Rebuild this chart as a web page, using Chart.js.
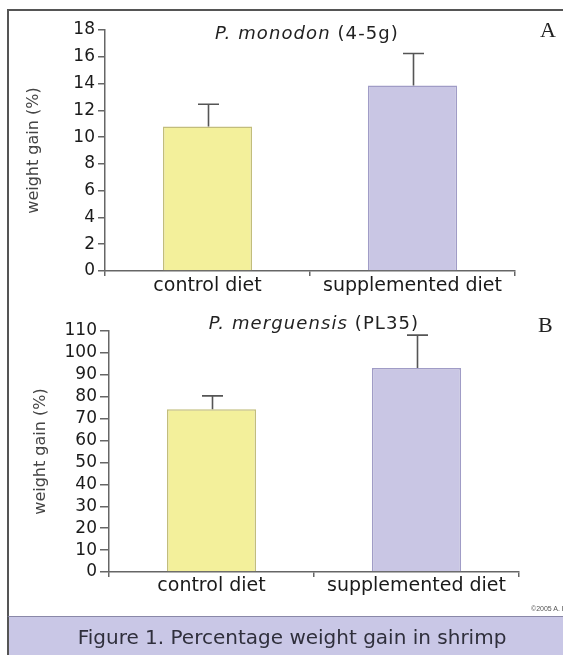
<!DOCTYPE html>
<html><head><meta charset="utf-8">
<script src="https://cdn.jsdelivr.net/npm/chart.js@4.4.1/dist/chart.umd.min.js"></script>
<style>
html,body{margin:0;padding:0;background:#fff;}
body{width:563px;height:655px;position:relative;overflow:hidden;font-family:"DejaVu Sans",sans-serif;}
canvas{position:absolute;left:0;}
#c1{top:0;}
#c2{top:305px;}
.frame{position:absolute;left:7px;top:9px;width:600px;height:607px;border-top:2px solid #555;border-left:2px solid #555;}
.ttl{position:absolute;transform:translateX(-50%);white-space:nowrap;font-size:18px;letter-spacing:1.1px;color:#222;line-height:20px;}
.lett{position:absolute;font-family:"Liberation Serif",serif;font-size:22px;color:#222;line-height:22px;}
.copy{position:absolute;left:531px;top:605px;font-family:"Liberation Sans",sans-serif;font-size:7px;color:#555;white-space:nowrap;line-height:8px;}
.footer{position:absolute;left:7px;top:616px;width:600px;height:39px;background:#c9c7e6;border-left:2px solid #555;border-top:1px solid #8a88a8;}
.footer span{position:absolute;left:283px;top:9px;transform:translateX(-50%);white-space:nowrap;font-size:20px;line-height:22px;color:#2f2f3c;}
</style>
</head>
<body>
<div class="frame"></div>
<canvas id="c1" width="563" height="305"></canvas>
<canvas id="c2" width="563" height="305"></canvas>
<div class="ttl" style="left:307px;top:23px;"><i>P. monodon</i> (4-5g)</div>
<div class="lett" style="left:540px;top:19px;">A</div>
<div class="ttl" style="left:314px;top:313px;"><i>P. merguensis</i> (PL35)</div>
<div class="lett" style="left:538px;top:314px;">B</div>
<div class="copy">©2005 A. Barnes</div>
<div class="footer"><span>Figure 1. Percentage weight gain in shrimp</span></div>
<script>
const categories = ['control diet', 'supplemented diet'];
const monodonValues = [10.8, 13.85];
const monodonErrors = [1.65, 2.4];
const monodonTicks = [0, 2, 4, 6, 8, 10, 12, 14, 16, 18];
const merguensisValues = [74.3, 93.1];
const merguensisErrors = [6.1, 15.0];
const merguensisTicks = [0, 10, 20, 30, 40, 50, 60, 70, 80, 90, 100, 110];
const yTitle = 'weight gain (%)';
const barFill = ['#f3f09b', '#c9c6e4'];
const barEdge = ['#c2bd7c', '#a09cc6'];

Chart.defaults.font.family = 'DejaVu Sans';

const errorBars = {
  id: 'errorBars',
  afterDatasetsDraw(chart, args, opts) {
    const ctx = chart.ctx, y = chart.scales.y;
    chart.data.datasets.forEach((ds, i) => {
      const meta = chart.getDatasetMeta(i);
      meta.data.forEach((bar, j) => {
        const top = y.getPixelForValue(ds.data[j] + ds.errors[j]);
        const x = Math.round(bar.x) + 0.5;
        ctx.save();
        ctx.strokeStyle = '#555';
        ctx.lineWidth = 1.6;
        ctx.beginPath();
        ctx.moveTo(x, bar.y);
        ctx.lineTo(x, top);
        ctx.moveTo(x - opts.cap / 2, top);
        ctx.lineTo(x + opts.cap / 2, top);
        ctx.stroke();
        ctx.restore();
      });
    });
  }
};

function makeChart(id, values, errors, tickVals, g) {
  return new Chart(document.getElementById(id), {
    type: 'bar',
    data: {
      labels: categories,
      datasets: [{
        data: values,
        errors: errors,
        backgroundColor: barFill,
        borderColor: barEdge,
        borderWidth: 1.5,
        barPercentage: 0.435,
        categoryPercentage: 1
      }]
    },
    plugins: [errorBars],
    options: {
      responsive: false,
      animation: false,
      devicePixelRatio: 1,
      layout: { padding: { top: g.top, right: g.right, left: 0, bottom: 0 } },
      plugins: {
        legend: { display: false },
        tooltip: { enabled: false },
        errorBars: { cap: 21 }
      },
      scales: {
        x: {
          offset: true,
          grid: { offset: true, drawOnChartArea: false, drawTicks: true, tickLength: 5, color: '#666', lineWidth: 1.5 },
          border: { display: true, color: '#666', width: 1.5 },
          ticks: { font: { size: 19 }, color: '#1a1a1a', padding: g.xpad, maxRotation: 0, autoSkip: false },
          afterFit(s) { s.height = g.xh; }
        },
        y: {
          min: tickVals[0],
          max: tickVals[tickVals.length - 1],
          afterBuildTicks(s) { s.ticks = tickVals.map(v => ({ value: v })); },
          grid: { drawOnChartArea: false, drawTicks: true, tickLength: g.tl, color: '#666', lineWidth: 1.5 },
          border: { display: true, color: '#666', width: 1.5 },
          ticks: { font: { size: 17 }, color: '#1a1a1a', padding: 3, autoSkip: false },
          title: { display: true, text: yTitle, font: { size: 16 }, color: '#444', padding: { top: g.tpad, bottom: 0 } },
          afterFit(s) { s.width = g.yw; }
        }
      }
    }
  });
}

makeChart('c1', monodonValues, monodonErrors, monodonTicks, { top: 30, right: 48, xh: 34, yw: 105, xpad: -1, tl: 7, tpad: 24 });
makeChart('c2', merguensisValues, merguensisErrors, merguensisTicks, { top: 26, right: 44, xh: 38, yw: 109, xpad: -2, tl: 9, tpad: 31 });
</script>
</body></html>
